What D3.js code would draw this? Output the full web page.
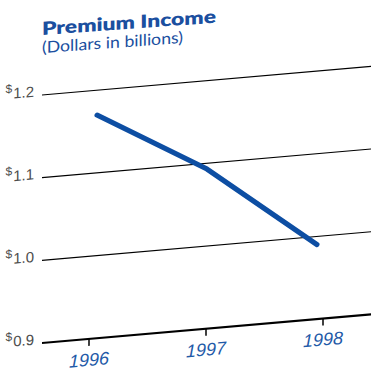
<!DOCTYPE html>
<html><head><meta charset="utf-8">
<script src="https://cdn.jsdelivr.net/npm/d3@7"></script>
<style>html,body{margin:0;padding:0;background:#fff}svg{display:block}</style>
</head><body>
<script>
const years = ["1996", "1997", "1998"];
const premium = [1.17, 1.093, 0.99];
const yTicks = [0.9, 1.0, 1.1, 1.2];
const yTickLabels = ["0.9", "1.0", "1.1", "1.2"];
const title = "Premium Income";
const subtitle = "(Dollars in billions)";

const W = 371, H = 371;
const blue = "#0d4ea3";
const svg = d3.select("body").append("svg").attr("width", W).attr("height", H);

const k = -0.087;       // perspective slope
const x0 = 42;          // left edge of plot
const g = svg.append("g").attr("transform", `translate(${x0},0) matrix(1,${k},0,1,0,0)`);

const x = d3.scalePoint().domain(years).range([47, 281]);
const xLine = d3.scalePoint().domain(years).range([55, 275]);
const y = d3.scaleLinear().domain([0.9, 1.2]).range([343, 95]);

// gridlines
g.selectAll("line.grid").data(yTicks).join("line")
  .attr("x1", 0).attr("x2", W - x0 + 5)
  .attr("y1", d => y(d)).attr("y2", d => y(d))
  .attr("stroke", "#000").attr("stroke-width", (d, i) => i === 0 ? 2.2 : 1.1);

// y labels
const yl = g.selectAll("text.yl").data(yTicks).join("text")
  .attr("x", -8).attr("y", d => y(d) + 1)
  .attr("text-anchor", "end")
  .attr("fill", "#4d4d4d")
  .style("font-family", "'Liberation Sans Narrow','Liberation Sans',sans-serif")
  .style("font-size", "15px");
yl.append("tspan").text("$").style("font-size", "12px").attr("dy", "-6").attr("dx", "0");
yl.append("tspan").text((d, i) => yTickLabels[i]).attr("dy", "6").attr("dx", "1");

// x ticks
g.selectAll("line.tick").data(years).join("line")
  .attr("x1", d => x(d)).attr("x2", d => x(d))
  .attr("y1", y(0.9)).attr("y2", y(0.9) + 7)
  .attr("stroke", "#000").attr("stroke-width", 1.5);

g.selectAll("text.xl").data(years).join("text")
  .attr("x", d => x(d)).attr("y", y(0.9) + 27)
  .attr("text-anchor", "middle")
  .attr("fill", "#1f5aa8")
  .style("font-family", "'Liberation Sans Narrow','Liberation Sans',sans-serif")
  .style("font-style", "italic")
  .style("font-size", "18px")
  .text(d => d);

// data line
g.append("path")
  .datum(years.map((d, i) => [xLine(d), y(premium[i])]))
  .attr("d", d3.line())
  .attr("fill", "none").attr("stroke", blue).attr("stroke-width", 5)
  .attr("stroke-linecap", "round").attr("stroke-linejoin", "round");

// title
const tg = svg.append("g").attr("transform", `translate(${x0},0) matrix(1,-0.071,0,1,0,0)`);
tg.append("text").attr("x", 0).attr("y", 35)
  .attr("fill", "#1b4f9f")
  .style("font-family", "Lato, 'Open Sans', sans-serif")
  .style("font-weight", "800").style("font-size", "18px")
  .attr("textLength", 174).attr("lengthAdjust", "spacingAndGlyphs")
  .text(title);
tg.append("text").attr("x", 0).attr("y", 53)
  .attr("fill", "#1b4f9f")
  .style("font-family", "Lato, 'Open Sans', sans-serif")
  .style("font-weight", "400").style("font-size", "16px")
  .attr("textLength", 141).attr("lengthAdjust", "spacingAndGlyphs")
  .text(subtitle);
</script>
</body></html>
